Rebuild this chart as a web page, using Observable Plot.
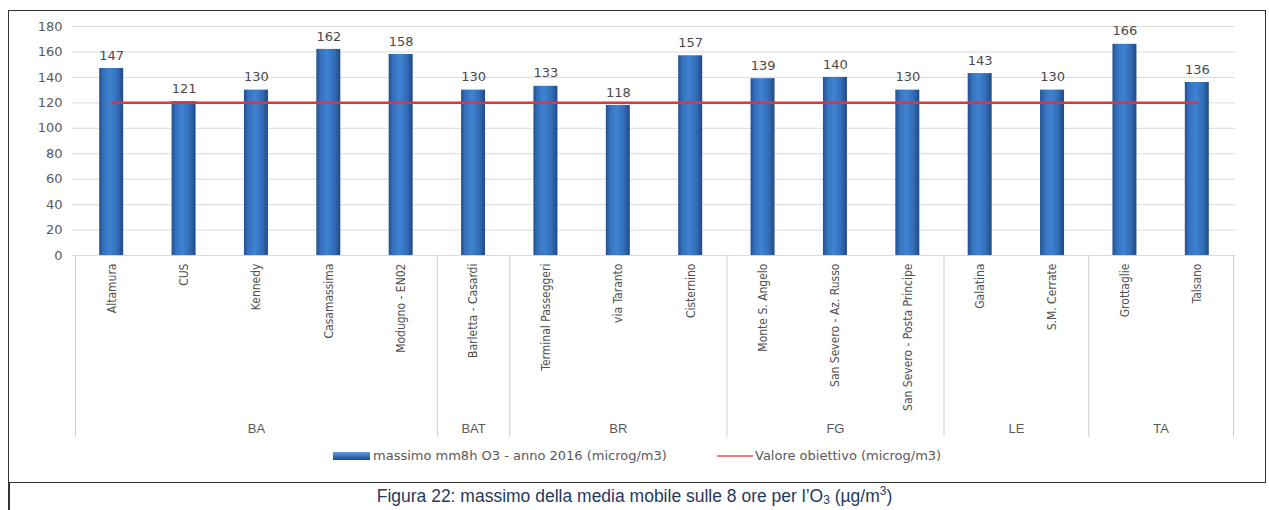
<!DOCTYPE html>
<html><head><meta charset="utf-8">
<script src="https://cdn.jsdelivr.net/npm/d3@7"></script>
<script src="https://cdn.jsdelivr.net/npm/@observablehq/plot@0.6"></script>
<style>
html,body{margin:0;padding:0;background:#fff;width:1269px;height:510px;overflow:hidden;position:relative;font-family:"DejaVu Sans",sans-serif;}
#frame{position:absolute;left:8px;top:10px;width:1258px;height:473px;border:1.5px solid #333;box-sizing:border-box;}
#leftline{position:absolute;left:8px;top:482px;width:1.5px;height:28px;background:#333;}
#chart{position:absolute;left:0;top:0;}
.lg{position:absolute;font-size:13px;color:#595959;white-space:nowrap;line-height:16px;}
#caption{position:absolute;left:0;width:1269px;top:486px;height:22px;line-height:20px;text-align:center;font-family:"Liberation Sans",sans-serif;font-size:17.5px;color:#1f3a60;white-space:nowrap;}
#caption .s{font-size:12px;vertical-align:-2px;line-height:0;}
#caption .p{font-size:12px;vertical-align:7px;line-height:0;}
</style></head>
<body>
<div id="frame"></div>
<div id="leftline"></div>
<div id="chart"></div>
<div id="legend"></div>
<div id="caption">Figura 22: massimo della media mobile sulle 8 ore per l’O<span class="s">3</span> (µg/m<span class="p">3</span>)</div>
<script>
const provinces = ["BA","BA","BA","BA","BA","BAT","BR","BR","BR","FG","FG","FG","LE","LE","TA","TA"];
const stations = ["Altamura","CUS","Kennedy","Casamassima","Modugno - EN02","Barletta - Casardi","Terminal Passeggeri","via Taranto","Cisternino","Monte S. Angelo","San Severo - Az. Russo","San Severo - Posta Principe","Galatina","S.M. Cerrate","Grottaglie","Talsano"];
const values = [147,121,130,162,158,130,133,118,157,139,140,130,143,130,166,136];
const target = [120,120,120,120,120,120,120,120,120,120,120,120,120,120,120,120];
const yTicks = [0,20,40,60,80,100,120,140,160,180];
const seriesBar = "massimo mm8h O3 - anno 2016 (microg/m3)";
const seriesLine = "Valore obiettivo (microg/m3)";

const data = stations.map((s,i)=>({i, station:s, province:provinces[i], value:values[i], target:target[i]}));

// group boundaries and centers
const groups = [];
provinces.forEach((p,i)=>{
  if (!groups.length || groups[groups.length-1].name !== p) groups.push({name:p, start:i, end:i});
  else groups[groups.length-1].end = i;
});
const bounds = [groups[0].start - 0.5, ...groups.map(g=>g.end + 0.5)];
const centers = groups.map(g=>({name:g.name, x:(g.start+g.end)/2}));

const chart = Plot.plot({
  width: 1269,
  height: 445,
  marginLeft: 75,
  marginRight: 36,
  marginTop: 26,
  marginBottom: 8,
  style: {fontFamily: "DejaVu Sans, sans-serif", background: "transparent", overflow: "visible"},
  x: {type: "linear", domain: [-0.5, stations.length - 0.5], axis: null},
  y: {domain: [-143, 180], axis: null},
  marks: [
    Plot.ruleY(yTicks, {stroke: "#d9d9d9", strokeWidth: 1, insetLeft: -3, insetRight: -2}),
    Plot.axisY(yTicks, {tickSize: 0, tickPadding: 13, fontSize: 13, color: "#595959", label: null}),
    Plot.ruleX(bounds, {y1: 0, y2: -143, stroke: "#cfcfcf", strokeWidth: 1}),
    Plot.rectY(data, {x1: d=>d.i-0.5, x2: d=>d.i+0.5, y: "value", insetLeft: 24.2, insetRight: 24.2, fill: "url(#barGrad)"}),
    Plot.line(data, {x: "i", y: "target", stroke: "#e2343c", strokeWidth: 2.5}),
    Plot.text(data, {x: "i", y: "value", text: d=>String(d.value), dy: -13, fontSize: 13, fill: "#4a4a4a"}),
    Plot.text(data, {x: "i", y: () => 0, dy: 8, text: "station", rotate: -90, textAnchor: "end", lineAnchor: "middle", fontSize: 12, fill: "#505050", fontFamily: "Liberation Sans Narrow, DejaVu Sans Condensed, sans-serif"}),
    Plot.text(centers, {x: "x", y: () => -143, dy: -9, text: "name", fontSize: 13, fill: "#595959", fontFamily: "Liberation Sans, sans-serif"})
  ]
});

// gradient definition for bars
const ns = "http://www.w3.org/2000/svg";
const defs = document.createElementNS(ns, "defs");
defs.innerHTML = `
<linearGradient id="barGrad" x1="0" x2="1" y1="0" y2="0">
  <stop offset="0" stop-color="#22508f"/>
  <stop offset="0.18" stop-color="#3571bd"/>
  <stop offset="0.45" stop-color="#3f83d2"/>
  <stop offset="0.75" stop-color="#336db8"/>
  <stop offset="1" stop-color="#1f4a85"/>
</linearGradient>`;
chart.insertBefore(defs, chart.firstChild);
document.getElementById("chart").appendChild(chart);

// legend
const lg = document.getElementById("legend");
lg.innerHTML = `
<div style="position:absolute;left:333px;top:452px;width:37px;height:8px;background:linear-gradient(#6a9fdc,#3570bb 50%,#1f4a85);"></div>
<div class="lg" style="left:373px;top:448px;">${seriesBar}</div>
<div style="position:absolute;left:717px;top:455px;width:36px;height:2px;background:#f07f85;"></div>
<div class="lg" style="left:755px;top:448px;">${seriesLine}</div>`;
</script>
</body></html>
